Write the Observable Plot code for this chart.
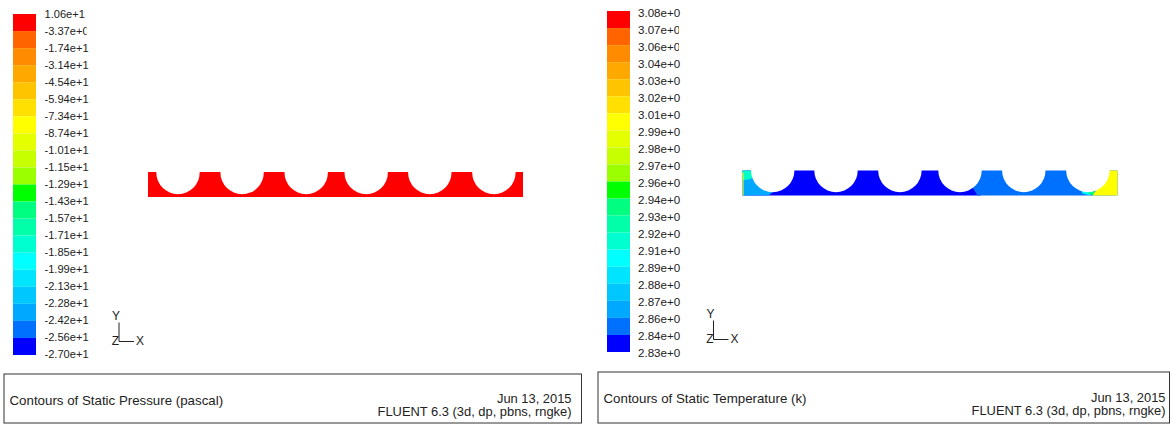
<!DOCTYPE html>
<html><head><meta charset="utf-8">
<script src="https://cdn.jsdelivr.net/npm/d3@7"></script>
<script src="https://cdn.jsdelivr.net/npm/@observablehq/plot@0.6"></script>
<style>html,body{margin:0;padding:0;background:#fff}svg{display:block}</style>
</head><body><div id="c"></div>
<script>
const bandColors = ["#ff0000","#ff6400","#ff8c00","#ffa800","#ffc400","#ffe000","#ffff00","#e4ff00","#c8ff00","#9cff00","#00ff00","#00ff80","#00ffa8","#00ffd0","#00ffff","#00e4ff","#00c8ff","#00a8ff","#0070ff","#0000ff"];
const pressureLabels = ["1.06e+1","-3.37e+0","-1.74e+1","-3.14e+1","-4.54e+1","-5.94e+1","-7.34e+1","-8.74e+1","-1.01e+1","-1.15e+1","-1.29e+1","-1.43e+1","-1.57e+1","-1.71e+1","-1.85e+1","-1.99e+1","-2.13e+1","-2.28e+1","-2.42e+1","-2.56e+1","-2.70e+1"];
const temperatureLabels = ["3.08e+0","3.07e+0","3.06e+0","3.04e+0","3.03e+0","3.02e+0","3.01e+0","2.99e+0","2.98e+0","2.97e+0","2.96e+0","2.94e+0","2.93e+0","2.92e+0","2.91e+0","2.89e+0","2.88e+0","2.87e+0","2.86e+0","2.84e+0","2.83e+0"];
const pressureHoles = [177.5,241.6,305.7,365.7,429.3,493.4];
const temperatureHoles = [772.2,835.5,899.4,959.5,1023.3,1087.4];
const temperatureZones = [
  {c:"#0000ff",p:[[742,170],[980,170],[980,195],[742,195]]},
  {c:"#0070ff",p:[[968,170],[1117,170],[1117,195],[977,195],[972,187]]},
  {c:"#00a8ff",p:[[742,178],[752,178],[772,192],[768,195],[742,195]]},
  {c:"#00ffc8",p:[[742,170],[752,170],[752,178],[742,180]]},
  {c:"#00ffff",p:[[1080,188],[1090,188],[1090,195],[1082,193]]},
  {c:"#00ff80",p:[[1088,188],[1094,188],[1094,195],[1088,193]]},
  {c:"#ffff00",p:[[1100,170],[1117,170],[1117,195],[1092,195],[1096,189]]},
  {c:"#ffff00",p:[[742,172],[743,172],[743,195],[742,195]]}
];
const panels = [
  {labels:pressureLabels, size:11.1, lx:13, ly:14, tx:44, ty:14, plate:[148,523,172,197], holes:pressureHoles, triad:[118.5,341], box:[4,581.5,374,423], title:"Contours of Static Pressure (pascal)", titleX:9, titleY:400, right:571, dateY:398, verY:411, clip:[[1,86.6]]},
  {labels:temperatureLabels, size:11.6, lx:607, ly:11, tx:637.5, ty:12.5, plate:[742,1117,170,195], holes:temperatureHoles, triad:[713,339], box:[598,1169.5,372,423], title:"Contours of Static Temperature (k)", titleX:603, titleY:398, right:1165, dateY:397, verY:410, clip:[[1,679],[2,679]]}
];
const step = 17.05, r = 21.7, ink = "#222", footSize = 12.9, titleSize = 13.3;
const marks = [];
const txt = (t,x,y,size,anchor="start") => Plot.text([t],{x:()=>x,y:()=>y,text:d=>d,fontSize:size,textAnchor:anchor,fill:ink});
panels.forEach((P,k)=>{
  // legend
  marks.push(Plot.rect(bandColors.map((c,i)=>({c,i})),{x1:()=>P.lx,x2:()=>P.lx+23,y1:d=>P.ly+d.i*step,y2:d=>P.ly+(d.i+1)*step,fill:d=>d.c}));
  marks.push(Plot.text(P.labels.map((t,i)=>({t,i})),{x:()=>P.tx,y:d=>P.ty+d.i*17.0,text:d=>d.t,fontSize:P.size,textAnchor:"start",fill:ink}));
  marks.push(Plot.rect(P.clip,{x1:d=>d[1],x2:d=>d[1]+6,y1:d=>P.ty+d[0]*17-7,y2:d=>P.ty+d[0]*17+7,fill:"#fff"}));
  // plate
  const [x1,x2,y1,y2]=P.plate;
  if(k===0) marks.push(Plot.rect([0],{x1:()=>x1,x2:()=>x2,y1:()=>y1,y2:()=>y2,fill:"#ff0000"}));
  else {
    const pts=temperatureZones.flatMap((z,i)=>z.p.map(([x,y])=>({x,y,z:i,c:z.c})));
    marks.push(Plot.line(pts,{x:"x",y:"y",z:"z",fill:"c",stroke:"none",curve:"linear"}));
  }
  marks.push(Plot.dot(P.holes,{x:d=>d,y:()=>y1,r,fill:"#fff",stroke:"none"}));
  // triad
  const [ox,oy]=P.triad;
  marks.push(Plot.link([0],{x1:()=>ox,y1:()=>oy,x2:()=>ox,y2:()=>oy-19,stroke:ink,strokeWidth:1}));
  marks.push(Plot.link([0],{x1:()=>ox,y1:()=>oy,x2:()=>ox+15,y2:()=>oy,stroke:ink,strokeWidth:1}));
  marks.push(txt("Y",ox-3,oy-25,12,"middle"),txt("X",ox+21,oy,12,"middle"),txt("Z",ox-3.5,oy,12,"middle"));
  // info box
  const [b1,b2,b3,b4]=P.box;
  marks.push(Plot.rect([0],{x1:()=>b1,x2:()=>b2,y1:()=>b3,y2:()=>b4,fill:"none",stroke:"#333",strokeWidth:1}));
  marks.push(txt(P.title,P.titleX,P.titleY,titleSize));
  marks.push(txt("Jun 13, 2015",P.right,P.dateY,footSize,"end"));
  marks.push(txt("FLUENT 6.3 (3d, dp, pbns, rngke)",P.right,P.verY,footSize,"end"));
});
const chart = Plot.plot({
  width:1174,height:424,margin:0,
  style:{fontFamily:"'Liberation Sans',Arial,sans-serif",background:"#fff"},
  x:{domain:[0,1174],range:[0,1174],axis:null},
  y:{domain:[0,424],range:[0,424],axis:null},
  marks
});
document.getElementById("c").appendChild(chart);
</script></body></html>
